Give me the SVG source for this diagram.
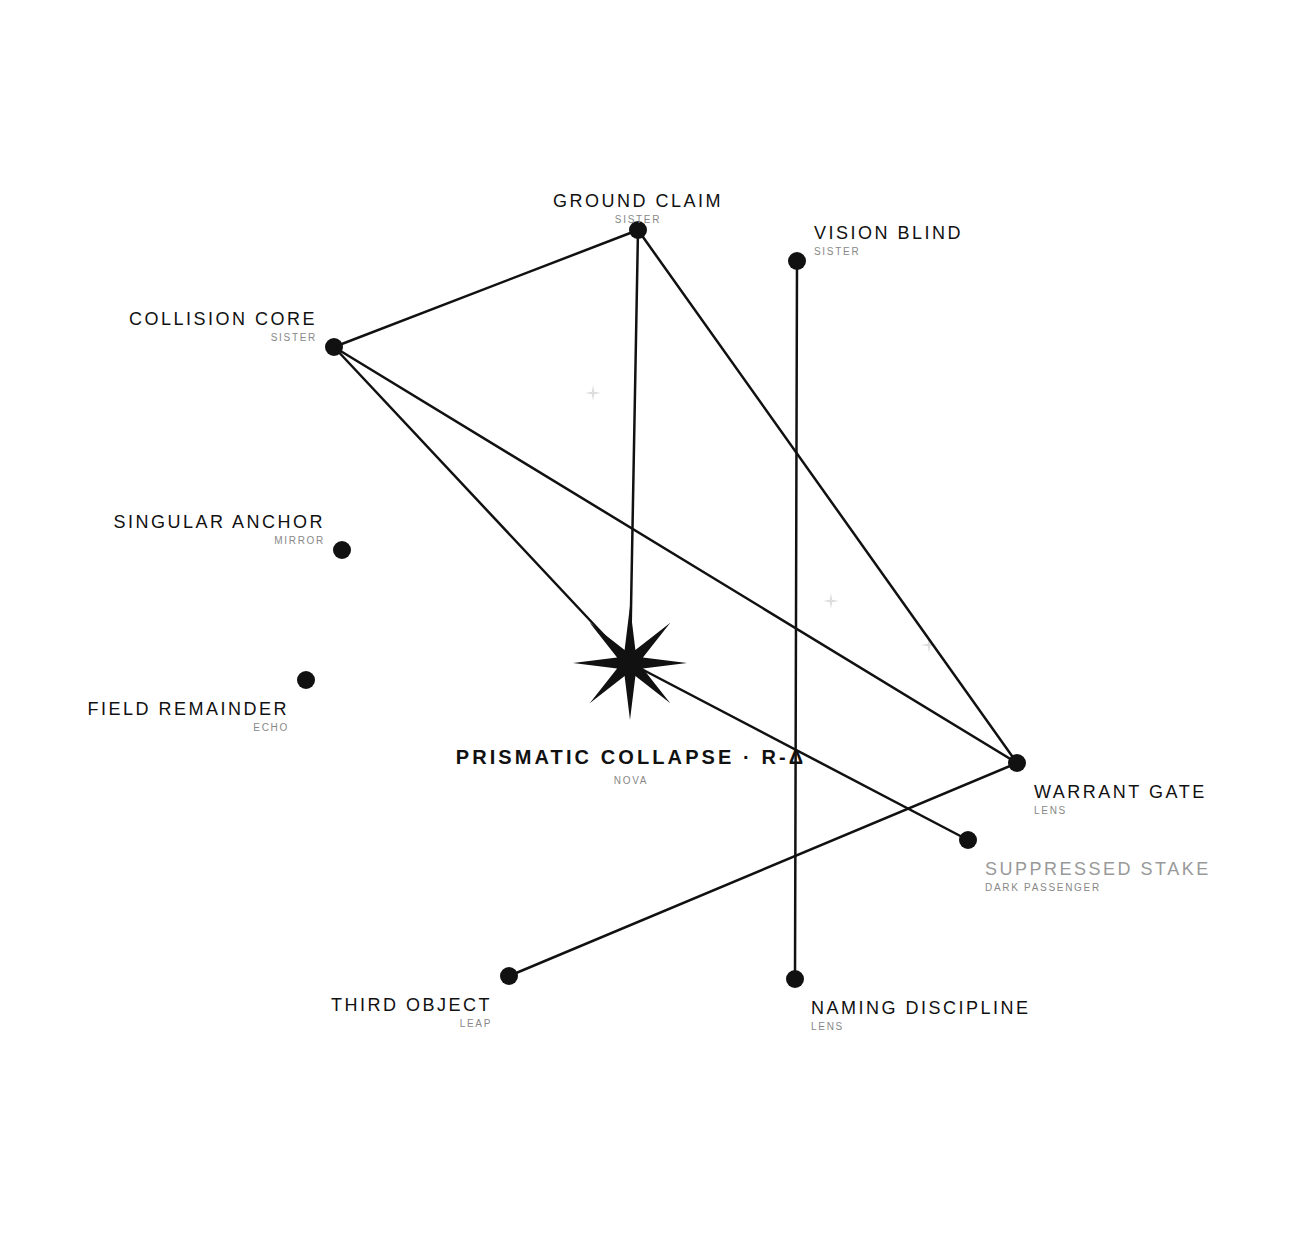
<svg xmlns="http://www.w3.org/2000/svg" width="1306" height="1258" viewBox="0 0 1306 1258">
<defs>
<style>
.edge{stroke:#111;stroke-width:2.5;fill:none;stroke-linecap:round}
.dot{fill:#111}
.lbl{font-family:"Liberation Sans",Arial,sans-serif;font-size:18px;letter-spacing:2.5px;fill:#111}
.sub{font-family:"Liberation Sans",Arial,sans-serif;font-size:10px;letter-spacing:1.7px;fill:#888}
.dim{fill:#999}
.title{font-family:"Liberation Sans",Arial,sans-serif;font-size:20px;font-weight:bold;letter-spacing:3.1px;fill:#111}
.spark{fill:#ddd}
</style>
<path id="sp" d="M0,-8 L1.2,-1.2 L8,0 L1.2,1.2 L0,8 L-1.2,1.2 L-8,0 L-1.2,-1.2 Z"/>
</defs>
<rect width="1306" height="1258" fill="#fff"/>
<g id="sparkles" class="spark">
<use href="#sp" x="593" y="393"/>
<use href="#sp" x="831" y="601"/>
<use href="#sp" x="929" y="645"/>
</g>
<g id="connectors">
<line class="edge" x1="334" y1="347" x2="638" y2="230"/>
<line class="edge" x1="638" y1="230" x2="630" y2="663"/>
<line class="edge" x1="638" y1="230" x2="1017" y2="763"/>
<line class="edge" x1="797" y1="261" x2="795" y2="979"/>
<line class="edge" x1="334" y1="347" x2="630" y2="663"/>
<line class="edge" x1="334" y1="347" x2="1017" y2="763"/>
<line class="edge" x1="630" y1="663" x2="968" y2="840"/>
<line class="edge" x1="1017" y1="763" x2="509" y2="976"/>
</g>
<g id="ground-claim">
<circle class="dot" cx="638" cy="230" r="9"/>
<text class="lbl" x="638" y="207" text-anchor="middle">GROUND CLAIM</text>
<text class="sub" x="638" y="223" text-anchor="middle">SISTER</text>
</g>
<g id="vision-blind">
<circle class="dot" cx="797" cy="261" r="9"/>
<text class="lbl" x="814" y="239">VISION BLIND</text>
<text class="sub" x="814" y="255">SISTER</text>
</g>
<g id="collision-core">
<circle class="dot" cx="334" cy="347" r="9"/>
<text class="lbl" x="317" y="325" text-anchor="end">COLLISION CORE</text>
<text class="sub" x="317" y="341" text-anchor="end">SISTER</text>
</g>
<g id="singular-anchor">
<circle class="dot" cx="342" cy="550" r="9"/>
<text class="lbl" x="325" y="528" text-anchor="end">SINGULAR ANCHOR</text>
<text class="sub" x="325" y="544" text-anchor="end">MIRROR</text>
</g>
<g id="field-remainder">
<circle class="dot" cx="306" cy="680" r="9"/>
<text class="lbl" x="289" y="715" text-anchor="end">FIELD REMAINDER</text>
<text class="sub" x="289" y="731" text-anchor="end">ECHO</text>
</g>
<g id="prismatic-collapse">
<path class="dot" transform="translate(630,663)" d="M0,-57 L5.4,-12.9 L40.3,-40.3 L12.9,-5.4 L57,0 L12.9,5.4 L40.3,40.3 L5.4,12.9 L0,57 L-5.4,12.9 L-40.3,40.3 L-12.9,5.4 L-57,0 L-12.9,-5.4 L-40.3,-40.3 L-5.4,-12.9 Z"/>
<text class="title" x="631" y="764" text-anchor="middle">PRISMATIC COLLAPSE · R-Δ</text>
<text class="sub" x="631" y="784" text-anchor="middle">NOVA</text>
</g>
<g id="warrant-gate">
<circle class="dot" cx="1017" cy="763" r="9"/>
<text class="lbl" x="1034" y="798">WARRANT GATE</text>
<text class="sub" x="1034" y="814">LENS</text>
</g>
<g id="suppressed-stake">
<circle class="dot" cx="968" cy="840" r="9"/>
<text class="lbl dim" x="985" y="875">SUPPRESSED STAKE</text>
<text class="sub" x="985" y="891">DARK PASSENGER</text>
</g>
<g id="third-object">
<circle class="dot" cx="509" cy="976" r="9"/>
<text class="lbl" x="492" y="1011" text-anchor="end">THIRD OBJECT</text>
<text class="sub" x="492" y="1027" text-anchor="end">LEAP</text>
</g>
<g id="naming-discipline">
<circle class="dot" cx="795" cy="979" r="9"/>
<text class="lbl" x="811" y="1014">NAMING DISCIPLINE</text>
<text class="sub" x="811" y="1030">LENS</text>
</g>
</svg>
